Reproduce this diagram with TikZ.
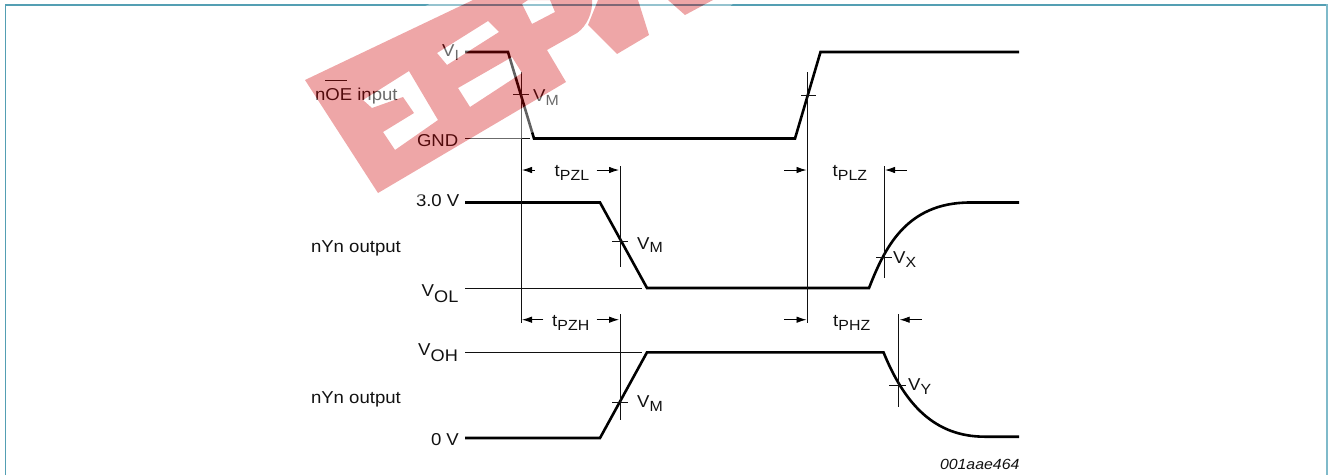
\documentclass[tikz,border=0pt]{standalone}
\usepackage{fontspec}
\setmainfont[FakeStretch=1.08]{Liberation Sans}
\usetikzlibrary{arrows.meta}
\definecolor{teal1}{HTML}{549FB3}
\definecolor{teal2}{HTML}{7FBACA}
\definecolor{wmred}{RGB}{206,0,4}
\definecolor{inkc}{HTML}{111111}
\tikzset{
 wave/.style={line width=2.6pt,line join=miter,draw=black},
 thin line/.style={line width=0.9pt,draw=inkc},
 dimarrow/.style={line width=0.9pt,draw=black,-{Latex[length=10pt,width=6.5pt]}},
 lbl/.style={anchor=base west,inner sep=0pt,outer sep=0pt,font=\fontsize{17.2pt}{19pt}\selectfont,text=inkc},
}
\newcommand{\subA}[2][4.5pt]{\raisebox{-#1}{\kern0.3pt\fontsize{14.7pt}{17pt}\selectfont #2}}
\newcommand{\subB}[2][6pt]{\raisebox{-#1}{\kern0.3pt\fontsize{16.8pt}{18pt}\selectfont #2}}
\begin{document}
\begin{tikzpicture}[x=1pt,y=-1pt]
\useasboundingbox (0,0) rectangle (1329,475);
% frame
\draw[teal1,line width=1.8pt] (5.5,475) -- (5.5,4.7) -- (1326,4.7);
\draw[teal2,line width=2.6pt] (1327,4) -- (1327,475);
% waveforms
\draw[wave] (465,52) -- (508,52) -- (534,138.5) -- (795,138.5) -- (820.5,52) -- (1019,52);
\draw[wave] (465,202.5) -- (600,202.5) -- (647,288) -- (869,288) .. controls (884,250) and (905,202.5) .. (970,202.5) -- (1019,202.5);
\draw[wave] (465,438) -- (600,438) -- (647,352.3) -- (883.5,352.3) .. controls (905,405) and (935,436.7) .. (985,436.7) -- (1019,436.7);
% reference lines
\draw[thin line] (465,138.7) -- (530,138.7);
\draw[thin line] (465,288) -- (642,288);
\draw[thin line] (465,352.3) -- (642,352.3);
% verticals and ticks
\draw[thin line] (521,72) -- (521,323);
\draw[thin line] (513,94.7) -- (529,94.7);
\draw[thin line] (620,166) -- (620,267);
\draw[thin line] (612,241) -- (628,241);
\draw[thin line] (807.3,72) -- (807.3,323);
\draw[thin line] (801,95) -- (816,95);
\draw[thin line] (884,166) -- (884,277.7);
\draw[thin line] (876,257.7) -- (892,257.7);
\draw[thin line] (620,314) -- (620,420);
\draw[thin line] (612,402) -- (628,402);
\draw[thin line] (898.7,314) -- (898.7,407);
\draw[thin line] (889,385.3) -- (906,385.3);
% arrows
\draw[dimarrow] (534.5,170) -- (522,170);
\draw[dimarrow] (596.7,170) -- (619,170);
\draw[dimarrow] (784,170) -- (806.5,170);
\draw[dimarrow] (906.7,170) -- (885,170);
\draw[dimarrow] (543.3,319.7) -- (522,319.7);
\draw[dimarrow] (596.7,319.7) -- (619,319.7);
\draw[dimarrow] (784,319.7) -- (806.5,319.7);
\draw[dimarrow] (921.7,319.7) -- (899.7,319.7);
% labels
\node[lbl] (vi) at (442,56.5) {V\subA[3.5pt]{I}};
\node[lbl] (noe) at (315,100) {n\rlap{\raisebox{19.5pt}{\rule{22pt}{1pt}}}OE input};
\node[lbl] (vm1) at (533,101) {V\subA{M}};
\node[lbl] (gnd) at (417,146.7) {GND};
\node[lbl] (tpzl) at (554.5,176.5) {t\subA[3.5pt]{PZL}};
\node[lbl] (three) at (416,206) {3.0 V};
\node[lbl] (ny1) at (311,252) {nYn output};
\node[lbl] (vm2) at (637,249) {V\subA[3.5pt]{M}};
\node[lbl] (vol) at (421.5,296) {V\subB{OL}};
\node[lbl] (tpzh) at (552,326) {t\subA[4pt]{PZH}};
\node[lbl] (voh) at (418,355) {V\subB{OH}};
\node[lbl] (ny2) at (311,403) {nYn output};
\node[lbl] (vm3) at (637,407) {V\subA[4pt]{M}};
\node[lbl] (zero) at (431,445) {0 V};
\node[lbl] (tplz) at (832.5,176.5) {t\subA[3.5pt]{PLZ}};
\node[lbl] (vx) at (893,263) {V\subA[4pt]{X}};
\node[lbl] (tphz) at (833,326) {t\subA[4pt]{PHZ}};
\node[lbl] (vy) at (908,390) {V\subA[4pt]{Y}};
\node[lbl,font=\fontsize{14.7pt}{16pt}\selectfont\itshape] (code) at (940,469) {001aae464};
% watermark haze, outside the red only
\fill[white,fill opacity=0.38,even odd rule]
  (282,76) -- (448,-5) -- (745,-5) -- (660,58) -- (583,103) -- (391,214) -- (362,206) -- cycle
  (305,80) -- (473,0) -- (592,0) .. controls (593,12) and (587,26) .. (577,33) -- (547,50) -- (566,82) -- (378,193) -- cycle
  (363,100) -- (409,71) -- (438,120) -- (395,150) -- (383,132) -- (414,113) -- (403,97) -- (372,108) -- cycle
  (437,53) -- (488,21) -- (499,32) -- (447,65) -- cycle
  (458,88) -- (512,57) -- (522,73) -- (470,107) -- cycle
  (522,4) -- (532,24) -- (555,12) -- (550,0) -- (528,0) -- cycle
  (598,0) -- (588,25) -- (617,54) -- (649,35) -- (638,0) -- cycle
  (668,0) -- (685,15) -- (713,0) -- cycle;
% watermark
\fill[wmred,fill opacity=0.35,even odd rule]
  (305,80) -- (473,0) -- (592,0) .. controls (593,12) and (587,26) .. (577,33) -- (547,50) -- (566,82) -- (378,193) -- cycle
  (363,100) -- (409,71) -- (438,120) -- (395,150) -- (383,132) -- (414,113) -- (403,97) -- (372,108) -- cycle
  (437,53) -- (488,21) -- (499,32) -- (447,65) -- cycle
  (458,88) -- (512,57) -- (522,73) -- (470,107) -- cycle
  (522,4) -- (532,24) -- (555,12) -- (550,0) -- (528,0) -- cycle;
\fill[wmred,fill opacity=0.35] (598,0) -- (588,25) -- (617,54) -- (649,35) -- (638,0) -- cycle;
\fill[wmred,fill opacity=0.35] (668,0) -- (685,15) -- (713,0) -- cycle;
\end{tikzpicture}
\end{document}
